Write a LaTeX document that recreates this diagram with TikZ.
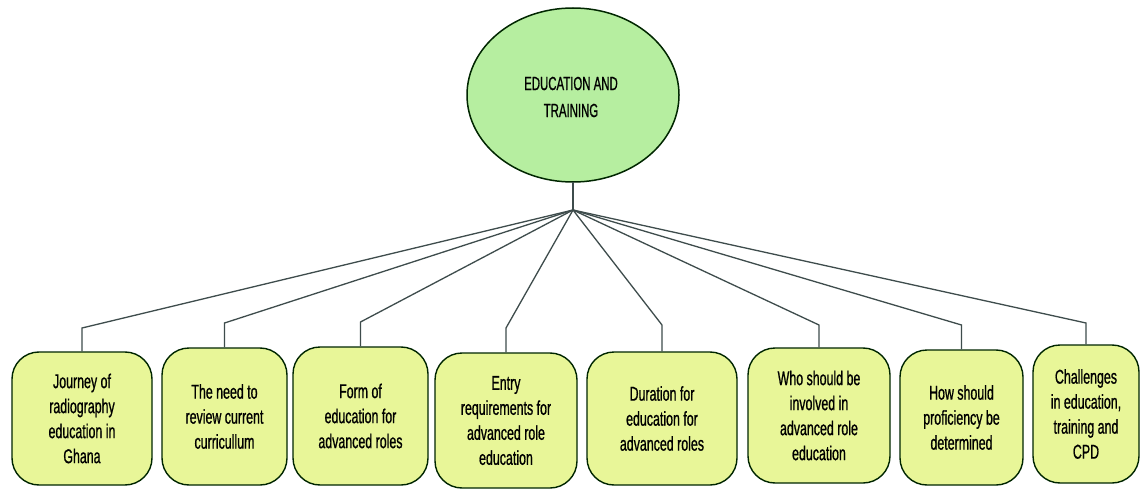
\documentclass[tikz,border=0pt]{standalone}
\usepackage{fontspec}
\setmainfont{Liberation Sans}[FakeStretch=0.62, FakeBold=0.8]
\newfontfamily\headfont{Liberation Sans}[FakeStretch=0.6, FakeBold=0.8]
\begin{document}
\begin{tikzpicture}[x=1pt,y=-1pt,
  leaf/.style={draw=black!85!green, line width=1.4pt, fill=leaffill,
    rounded corners=27pt, align=center, inner sep=0pt,
    font=\fontsize{20}{25}\selectfont},
  link/.style={draw=linkgray, line width=1.3pt}]
\definecolor{rootfill}{RGB}{182,238,160}
\definecolor{leaffill}{RGB}{232,246,152}
\definecolor{linkgray}{RGB}{62,76,76}
\useasboundingbox (0,0) rectangle (1140,489);
\fill[white] (0,0) rectangle (1140,489);

% central topic
\draw[draw=black!85!green, line width=1.5pt, fill=rootfill] (573,95) ellipse [x radius=106, y radius=87];
\node[font=\headfont\fontsize{19}{27}\selectfont, align=center] (root) at (571,97) {EDUCATION AND\\TRAINING};
\coordinate (rootbase) at (573,182);
\coordinate (hub) at (573,210);

% sub-topics
\node[leaf, minimum width=140, minimum height=133] (b1) at (82,418.5) {Journey of\\radiography\\education in\\Ghana};
\node[leaf, minimum width=125, minimum height=137] (b2) at (224.5,416.5) {The need to\\review current\\curricullum};
\node[leaf, minimum width=135, minimum height=138] (b3) at (360.5,416) {Form of\\education for\\advanced roles};
\node[leaf, minimum width=142, minimum height=135] (b4) at (506,420.5) {Entry\\requirements for\\advanced role\\education};
\node[leaf, minimum width=150, minimum height=133] (b5) at (662,418.5) {Duration for\\education for\\advanced roles};
\node[leaf, minimum width=142, minimum height=135] (b6) at (819,415.5) {Who should be\\involved in\\advanced role\\education};
\node[leaf, minimum width=123, minimum height=135] (b7) at (961.5,417.5) {How should\\proficiency be\\determined};
\node[leaf, minimum width=106, minimum height=138] (b8) at (1086,414) {Challenges\\in education,\\training and\\CPD};

% connectors
\draw[link] (rootbase) -- (hub);
\foreach \b/\k in {b1/328, b2/323, b3/322, b4/328, b5/325, b6/325, b7/325, b8/323}
  \draw[link] (hub) -- (\b.north |- 0,\k) -- (\b.north);
\end{tikzpicture}
\end{document}
